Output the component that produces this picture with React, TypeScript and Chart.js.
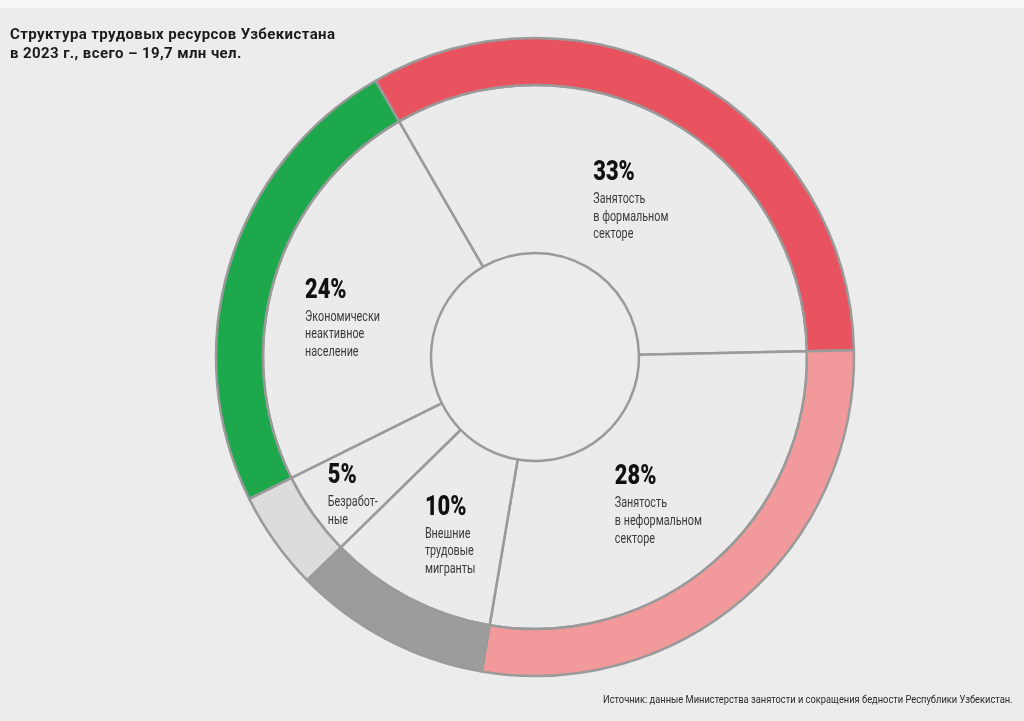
import React, { useEffect, useRef } from "react";
import { Chart, registerables } from "chart.js";

Chart.register(...registerables);

const CATEGORIES = [
  "Занятость в формальном секторе",
  "Занятость в неформальном секторе",
  "Внешние трудовые мигранты",
  "Безработные",
  "Экономически неактивное население",
];
const SHARES = [33, 28, 10, 5, 24];
const LABEL_LINES = [
  ["Занятость", "в формальном", "секторе"],
  ["Занятость", "в неформальном", "секторе"],
  ["Внешние", "трудовые", "мигранты"],
  ["Безработ-", "ные"],
  ["Экономически", "неактивное", "население"],
];
const RING_COLORS = ["#e9535f", "#f29a9b", "#9c9c9c", "#dcdcdc", "#1ca84b"];
const TITLE_LINES = ["Структура трудовых ресурсов Узбекистана", "в 2023 г., всего – 19,7 млн чел."];
const SOURCE = "Источник: данные Министерства занятости и сокращения бедности Республики Узбекистан.";

// label anchor offsets (from slice centroid) – style, not data
const LABEL_OFFSETS: [number, number][] = [
  [-34, -13],
  [-43, -15],
  [-23, -9],
  [-54, 17],
  [-50, -5],
];

const labelPlugin = {
  id: "sliceLabels",
  afterDatasetsDraw(chart: any) {
    const meta = chart.getDatasetMeta(1);
    const ctx = chart.ctx as CanvasRenderingContext2D;
    meta.data.forEach((arc: any, i: number) => {
      const p = arc.getCenterPoint();
      const [dx, dy] = LABEL_OFFSETS[i];
      const x = p.x + dx;
      const y = p.y + dy;
      ctx.save();
      ctx.textAlign = "left";
      ctx.textBaseline = "alphabetic";
      ctx.fillStyle = "#111111";
      ctx.font = "900 28px Roboto";
      ctx.translate(x, y);
      ctx.scale(0.78, 1);
      ctx.fillText(`${SHARES[i]}%`, 0, 0);
      ctx.restore();
      LABEL_LINES[i].forEach((line, j) => {
        ctx.save();
        ctx.textAlign = "left";
        ctx.textBaseline = "alphabetic";
        ctx.fillStyle = "#3a3a3a";
        ctx.font = "14px Roboto";
        ctx.translate(x, y + 23 + j * 17.6);
        ctx.scale(0.77, 1);
        ctx.fillText(line, 0, 0);
        ctx.restore();
      });
    });
  },
};

export default function App() {
  const ref = useRef<HTMLCanvasElement | null>(null);

  useEffect(() => {
    if (!ref.current) return;
    const chart = new Chart(ref.current, {
      type: "doughnut",
      data: {
        labels: CATEGORIES,
        datasets: [
          {
            data: SHARES,
            backgroundColor: RING_COLORS,
            borderColor: "#9a9a9a",
            borderWidth: 2.5,
            weight: 47,
          } as any,
          {
            data: SHARES,
            backgroundColor: "#ebebeb",
            borderColor: "#9a9a9a",
            borderWidth: 2.5,
            weight: 168,
          } as any,
        ],
      },
      options: {
        responsive: false,
        animation: false,
        events: [],
        radius: 319,
        cutout: "32.6%",
        rotation: -30,
        layout: { padding: { left: 46, right: 0, top: 0, bottom: 7 } },
        plugins: {
          legend: { display: false },
          tooltip: { enabled: false },
          title: { display: false },
        },
      } as any,
      plugins: [labelPlugin],
    });
    return () => chart.destroy();
  }, []);

  return (
    <div
      style={{
        position: "fixed",
        left: 0,
        top: 0,
        width: 1024,
        height: 721,
        background: "#ececec",
        overflow: "hidden",
        fontFamily: "Roboto, sans-serif",
      }}
    >
      <div style={{ position: "absolute", left: 0, top: 0, width: 1024, height: 8, background: "#f7f7f7" }} />
      <canvas ref={ref} width={1024} height={721} style={{ position: "absolute", left: 0, top: 0 }} />
      <div
        style={{
          position: "absolute",
          left: 10,
          top: 25,
          fontSize: 15,
          lineHeight: "19px",
          fontWeight: 700,
          letterSpacing: "0.4px",
          color: "#1a1a1a",
          whiteSpace: "nowrap",
        }}
      >
        {TITLE_LINES.map((t) => (
          <div key={t}>{t}</div>
        ))}
      </div>
      <div
        style={{
          position: "absolute",
          right: 11,
          top: 692,
          fontSize: 11.5,
          lineHeight: "14px",
          color: "#2a2a2a",
          transform: "scaleX(0.81)",
          transformOrigin: "right top",
          whiteSpace: "nowrap",
        }}
      >
        {SOURCE}
      </div>
    </div>
  );
}
